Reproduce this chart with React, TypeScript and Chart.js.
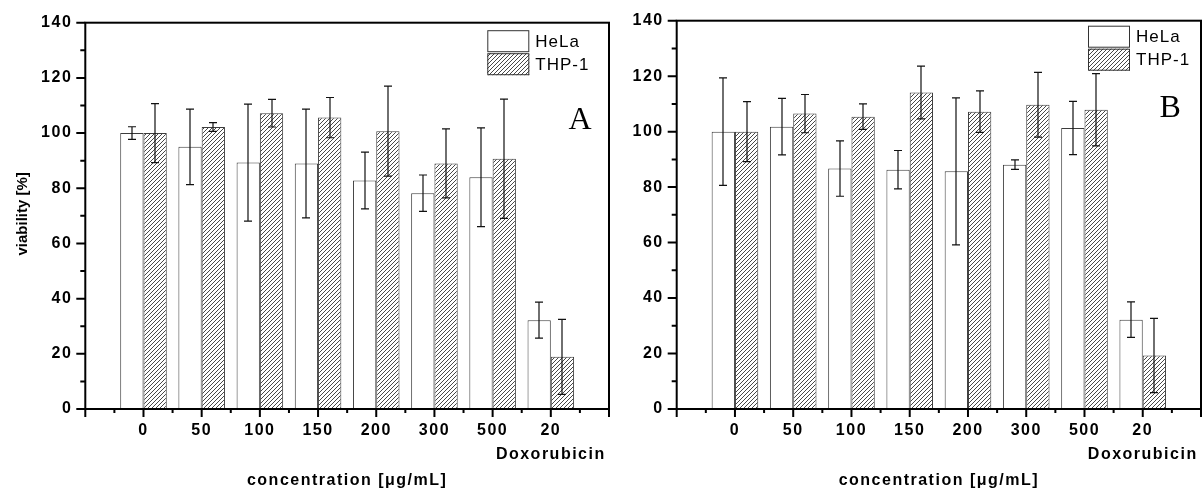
import React, { useEffect, useRef } from 'react';
import { Chart, registerables } from 'chart.js';
Chart.register(...registerables);

// ---- data ----
const categories = ['0', '50', '100', '150', '200', '300', '500', '20'];
const lastSubLabel = 'Doxorubicin';
const positions = [1, 2, 3, 4, 5, 6, 7, 8];
const seriesNames = ['HeLa', 'THP-1'];

const helaA = [100, 95.0, 89.3, 89.0, 82.8, 78.2, 84.0, 32.2];
const helaAErr = [2.3, 13.7, 21.2, 19.7, 10.3, 6.6, 17.9, 6.5];
const thpA = [100, 102.2, 107.2, 105.6, 100.7, 89.0, 90.7, 18.9];
const thpAErr = [10.7, 1.6, 5.0, 7.3, 16.3, 12.5, 21.6, 13.6];

const helaB = [100, 101.8, 86.7, 86.3, 85.7, 88.1, 101.3, 32.2];
const helaBErr = [19.4, 10.2, 10.0, 6.9, 26.5, 1.7, 9.6, 6.4];
const thpB = [100, 106.5, 105.4, 114.1, 107.2, 109.7, 107.9, 19.3];
const thpBErr = [10.8, 6.9, 4.6, 9.5, 7.5, 11.7, 13.0, 13.4];

const yMin = 0;
const yMax = 140;
const yStep = 20;
const xMin = 0;
const xMax = 9;

const xTitle = 'concentration [μg/mL]';
const yTitle = 'viability [%]';

const SANS = "'Liberation Sans', Arial, sans-serif";
const SERIF = "'Liberation Serif', 'Times New Roman', serif";

function makeHatch(): CanvasPattern | string {
  const c = document.createElement('canvas');
  const n = 4;
  c.width = n;
  c.height = n;
  const g = c.getContext('2d');
  if (!g) return '#aaa';
  g.fillStyle = '#ffffff';
  g.fillRect(0, 0, n, n);
  g.strokeStyle = '#333';
  g.lineWidth = 0.9;
  g.beginPath();
  g.moveTo(0, n);
  g.lineTo(n, 0);
  g.moveTo(-1, 1);
  g.lineTo(1, -1);
  g.moveTo(n - 1, n + 1);
  g.lineTo(n + 1, n - 1);
  g.stroke();
  const p = g.createPattern(c, 'repeat');
  return p || '#aaa';
}

const decorPlugin = {
  id: 'decor',
  beforeDraw(chart: any) {
    chart.ctx.letterSpacing = '1.5px';
  },
  afterDatasetsDraw(chart: any) {
    const ctx = chart.ctx;
    const ys = chart.scales.y;
    ctx.save();
    ctx.strokeStyle = '#111';
    ctx.lineWidth = 1.2;
    chart.data.datasets.forEach((ds: any, i: number) => {
      const meta = chart.getDatasetMeta(i);
      meta.data.forEach((el: any, j: number) => {
        const v = ds.data[j].y;
        const e = ds.errors[j];
        const x = Math.round(el.x);
        const y1 = ys.getPixelForValue(v + e);
        const y2 = ys.getPixelForValue(v - e);
        ctx.beginPath();
        ctx.moveTo(x, y1);
        ctx.lineTo(x, y2);
        ctx.moveTo(x - 4, y1);
        ctx.lineTo(x + 4, y1);
        ctx.moveTo(x - 4, y2);
        ctx.lineTo(x + 4, y2);
        ctx.stroke();
      });
    });
    ctx.restore();
  },
  afterDraw(chart: any, _args: any, opts: any) {
    const ctx = chart.ctx;
    const { left, right, top, bottom } = chart.chartArea;
    const xs = chart.scales.x;
    const ys = chart.scales.y;
    ctx.save();
    ctx.letterSpacing = '0px';
    // frame
    ctx.strokeStyle = '#000';
    ctx.lineWidth = 2;
    ctx.strokeRect(left, top, right - left, bottom - top);
    // y ticks
    ctx.beginPath();
    for (let v = yMin; v <= yMax; v += yStep / 2) {
      const py = ys.getPixelForValue(v);
      const major = Math.abs(v % yStep) < 1e-6;
      ctx.moveTo(left - (major ? 9 : 5), py);
      ctx.lineTo(left, py);
    }
    // x ticks
    for (let v = xMin; v <= xMax; v += 0.5) {
      const px = xs.getPixelForValue(v);
      const major = Math.abs(v % 1) < 1e-6;
      ctx.moveTo(px, bottom);
      ctx.lineTo(px, bottom + (major ? 8 : 4));
    }
    ctx.stroke();

    // legend
    const lg = opts.legend;
    const bx = right - lg.dx;
    let by = top + lg.dy;
    const bw = 42;
    const bh = 22;
    chart.data.datasets.forEach((ds: any) => {
      ctx.fillStyle = ds.backgroundColor;
      ctx.fillRect(bx, by, bw, bh);
      ctx.strokeStyle = '#333';
      ctx.lineWidth = 1;
      ctx.strokeRect(bx + 0.5, by + 0.5, bw - 1, bh - 1);
      ctx.fillStyle = '#000';
      ctx.font = `17px ${SANS}`;
      ctx.letterSpacing = '1px';
      ctx.textAlign = 'left';
      ctx.textBaseline = 'middle';
      ctx.fillText(ds.label, bx + bw + 6, by + bh / 2 + 1);
      by += bh + 1;
    });

    // panel letter
    ctx.letterSpacing = '0px';
    ctx.font = `32px ${SERIF}`;
    ctx.textAlign = 'center';
    ctx.textBaseline = 'middle';
    ctx.fillStyle = '#000';
    ctx.fillText(opts.letter.text, right - opts.letter.dx, top + opts.letter.dy);

    // x title
    ctx.font = `bold 16px ${SANS}`;
    ctx.letterSpacing = '1.5px';
    ctx.textAlign = 'center';
    ctx.textBaseline = 'middle';
    ctx.fillText(xTitle, (left + right) / 2, 481);

    // y title
    if (opts.showYTitle) {
      ctx.letterSpacing = '0px';
      ctx.font = `bold 15px ${SANS}`;
      ctx.save();
      ctx.translate(23, (top + bottom) / 2 - 2);
      ctx.rotate(-Math.PI / 2);
      ctx.textAlign = 'center';
      ctx.textBaseline = 'middle';
      ctx.fillText(yTitle, 0, 0);
      ctx.restore();
    }
    ctx.restore();
    ctx.letterSpacing = '0px';
  },
};

type PanelProps = {
  hela: number[];
  helaErr: number[];
  thp: number[];
  thpErr: number[];
  yAxisWidth: number;
  padTop: number;
  padRight: number;
  letter: string;
  letterDx: number;
  letterDy: number;
  legendDx: number;
  legendDy: number;
  showYTitle: boolean;
  width: number;
  left: number;
};

function zeroPad(s: any) {
  s.paddingLeft = 0;
  s.paddingRight = 0;
  s.paddingTop = 0;
  s.paddingBottom = 0;
}

function Panel(p: PanelProps) {
  const ref = useRef<HTMLCanvasElement | null>(null);
  useEffect(() => {
    if (!ref.current) return;
    const hatch = makeHatch();
    const chart = new Chart(ref.current, {
      type: 'bar',
      data: {
        datasets: [
          {
            label: seriesNames[0],
            data: positions.map((x, i) => ({ x, y: p.hela[i] })),
            errors: p.helaErr,
            backgroundColor: '#ffffff',
            borderColor: '#3c3c3c',
            borderWidth: 1,
          } as any,
          {
            label: seriesNames[1],
            data: positions.map((x, i) => ({ x, y: p.thp[i] })),
            errors: p.thpErr,
            backgroundColor: hatch,
            borderColor: '#3c3c3c',
            borderWidth: 1,
          } as any,
        ],
      },
      options: {
        animation: false,
        responsive: false,
        maintainAspectRatio: false,
        events: [],
        layout: { padding: { left: 0, right: p.padRight, top: p.padTop, bottom: 0 } },
        datasets: { bar: { categoryPercentage: 0.8, barPercentage: 1.0 } },
        plugins: {
          legend: { display: false },
          tooltip: { enabled: false },
          decor: {
            legend: { dx: p.legendDx, dy: p.legendDy },
            letter: { text: p.letter, dx: p.letterDx, dy: p.letterDy },
            showYTitle: p.showYTitle,
          },
        } as any,
        scales: {
          x: {
            type: 'linear',
            min: xMin,
            max: xMax,
            offset: false,
            grid: { display: false, drawTicks: false },
            border: { display: false },
            afterFit: (s: any) => {
              s.height = 81;
              zeroPad(s);
            },
            ticks: {
              stepSize: 1,
              autoSkip: false,
              maxRotation: 0,
              minRotation: 0,
              padding: 10,
              color: '#000',
              font: { family: SANS, size: 16, weight: 'bold', lineHeight: 1.5 },
              callback: (v: any) => {
                const idx = positions.indexOf(Number(v));
                if (idx < 0) return '';
                if (idx === categories.length - 1) return [categories[idx], lastSubLabel];
                return categories[idx];
              },
            },
          },
          y: {
            min: yMin,
            max: yMax,
            grid: { display: false, drawTicks: false },
            border: { display: false },
            afterFit: (s: any) => {
              s.width = p.yAxisWidth;
              zeroPad(s);
            },
            ticks: {
              stepSize: yStep,
              padding: 13,
              color: '#000',
              font: { family: SANS, size: 16, weight: 'bold' },
            },
          },
        } as any,
      },
      plugins: [decorPlugin as any],
    });
    return () => chart.destroy();
  }, []);
  const h = 490;
  return (
    <canvas
      ref={ref}
      width={p.width}
      height={h}
      style={{ position: 'absolute', left: p.left, top: 0, width: p.width, height: h }}
    />
  );
}

export default function App() {
  return (
    <div style={{ position: 'absolute', left: 0, top: 0, width: 1202, height: 490, background: '#fff' }}>
      <Panel
        hela={helaA}
        helaErr={helaAErr}
        thp={thpA}
        thpErr={thpAErr}
        yAxisWidth={85.3}
        padTop={22.7}
        padRight={11}
        letter="A"
        letterDx={29}
        letterDy={98}
        legendDx={121.7}
        legendDy={7.5}
        showYTitle={true}
        width={620}
        left={0}
      />
      <Panel
        hela={helaB}
        helaErr={helaBErr}
        thp={thpB}
        thpErr={thpBErr}
        yAxisWidth={56.7}
        padTop={20.7}
        padRight={1}
        letter="B"
        letterDx={30.8}
        letterDy={88}
        legendDx={113}
        legendDy={5}
        showYTitle={false}
        width={582}
        left={620}
      />
    </div>
  );
}
